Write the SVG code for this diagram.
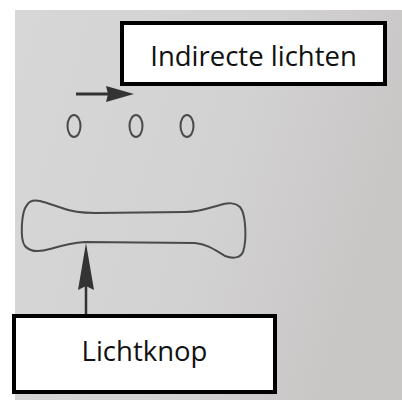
<svg xmlns="http://www.w3.org/2000/svg" width="402" height="401" viewBox="0 0 402 401">
<defs>
<linearGradient id="paper" x1="0" y1="0" x2="1" y2="0.3">
<stop offset="0" stop-color="#d7d7d7"/>
<stop offset="0.6" stop-color="#d3d2d2"/>
<stop offset="1" stop-color="#c9c6c6"/>
</linearGradient>
</defs>
<style>
.ink{fill:none;stroke:#4a4a4a;stroke-width:2}
.box{fill:#ffffff;stroke:#000000;stroke-width:4}
.lbl{font-family:"Open Sans","Liberation Sans",sans-serif;font-size:27.5px;fill:#111111;text-anchor:middle}
.head{fill:#333333}
</style>
<rect x="0" y="0" width="402" height="401" fill="#ffffff"/>
<rect x="15" y="10" width="387" height="390" fill="url(#paper)"/>
<g id="lights">
<ellipse cx="74" cy="126" rx="6.5" ry="11" class="ink"/>
<ellipse cx="136" cy="126" rx="6.5" ry="11" class="ink"/>
<ellipse cx="187" cy="126" rx="6.5" ry="11" class="ink"/>
</g>
<g id="button">
<path class="ink" d="M27,205 C30,200 36,200 40,201 C48,203 55,206 62,208 C72,212 82,213 95,213 L185,212 C200,212 212,207 220,205 C228,202 236,203 240,207 C246,214 247,240 243,252 C240,258 233,259 225,256 C215,250 207,244 195,243 L85,242 C70,243 60,246 50,249 C40,252 30,252 25,246 C20,240 21,212 27,205 Z"/>
</g>
<g id="connectors">
<line x1="76" y1="94" x2="110" y2="94" stroke="#333" stroke-width="3"/>
<path class="head" d="M134,94 L106,86 L108,94 L106,102 Z"/>
<line x1="86" y1="285" x2="86" y2="316" stroke="#333" stroke-width="2.5"/>
<path class="head" d="M86,243 L94,290 L86,286 L78,290 Z"/>
</g>
<g id="indirecte-lichten">
<rect class="box" x="122" y="23" width="263" height="61"/>
<text class="lbl" x="253.5" y="66">Indirecte lichten</text>
</g>
<g id="lichtknop">
<rect class="box" x="14" y="316" width="261" height="76"/>
<text class="lbl" x="144.5" y="361">Lichtknop</text>
</g>
</svg>
